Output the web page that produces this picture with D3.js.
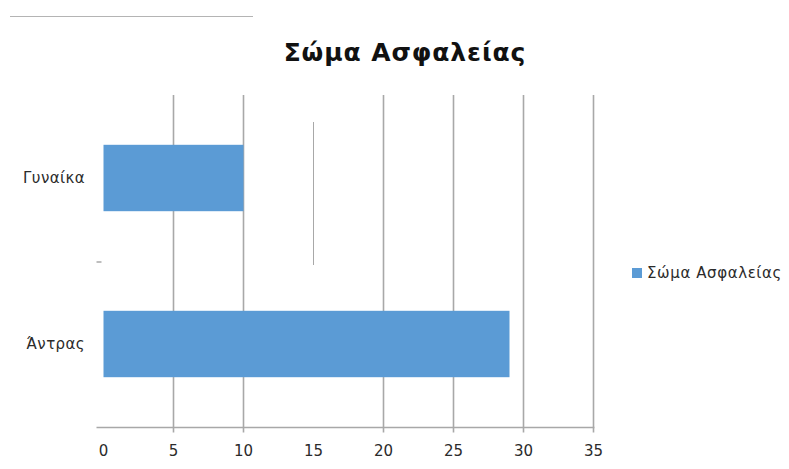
<!DOCTYPE html>
<html>
<head>
<meta charset="utf-8">
<script src="https://cdn.jsdelivr.net/npm/d3@7"></script>
<style>
  html, body { margin: 0; padding: 0; background: #ffffff; }
  svg { display: block; }
  text { font-family: "DejaVu Sans", Verdana, sans-serif; fill: #2b2b2b; }
</style>
</head>
<body>
<svg id="chart" width="789" height="469"></svg>
<script>
// Survey data: security forces, by gender
const chartTitle = "Σώμα Ασφαλείας";
const seriesName = "Σώμα Ασφαλείας";
const categories = ["Γυναίκα", "Άντρας"];
const values = [10, 29];
const xTicks = [0, 5, 10, 15, 20, 25, 30, 35];

const svg = d3.select("#chart");
const W = 789, H = 469;
const margin = { top: 95, right: 195, bottom: 42, left: 103.5 };
const plotW = 490, plotH = H - margin.top - margin.bottom;

svg.append("rect").attr("width", W).attr("height", H).attr("fill", "#ffffff");

// thin rule at the top of the page
svg.append("line")
  .attr("x1", 10).attr("x2", 253).attr("y1", 16.5).attr("y2", 16.5)
  .attr("stroke", "#b4b4b4").attr("stroke-width", 1.2);

const x = d3.scaleLinear().domain([0, 35]).range([margin.left, margin.left + plotW]);
const y = d3.scaleBand().domain(categories)
  .range([margin.top, margin.top + plotH])
  .paddingInner(0.6).paddingOuter(0.3);

const gridColor = "#a8a8a8";
const bandEdge = y.step() + margin.top;

// vertical gridlines (the 15 line only spans the upper band)
svg.append("g").selectAll("line")
  .data(xTicks.filter(t => t > 0))
  .join("line")
  .attr("x1", d => x(d)).attr("x2", d => x(d))
  .attr("y1", d => d === 15 ? margin.top + 27 : margin.top)
  .attr("y2", d => d === 15 ? bandEdge + 4 : margin.top + plotH)
  .attr("stroke", gridColor)
  .attr("stroke-width", d => d === 15 ? 1 : 1.6);

// bars
svg.append("g").selectAll("rect")
  .data(values)
  .join("rect")
  .attr("x", x(0))
  .attr("y", (d, i) => y(categories[i]))
  .attr("width", d => x(d) - x(0))
  .attr("height", y.bandwidth())
  .attr("fill", "#5b9bd5");

// horizontal value axis
const axisY = margin.top + plotH + 0.5;
svg.append("line")
  .attr("x1", margin.left - 7).attr("x2", x(35) + 1)
  .attr("y1", axisY).attr("y2", axisY)
  .attr("stroke", gridColor).attr("stroke-width", 1.6);

svg.append("g").selectAll("line")
  .data(xTicks.filter(t => t > 0 && t !== 15))
  .join("line")
  .attr("x1", d => x(d)).attr("x2", d => x(d))
  .attr("y1", axisY).attr("y2", axisY + 5)
  .attr("stroke", gridColor).attr("stroke-width", 1.6);

svg.append("g").selectAll("text")
  .data(xTicks)
  .join("text")
  .attr("x", d => x(d))
  .attr("y", axisY + 28)
  .attr("text-anchor", "middle")
  .attr("font-size", 15)
  .text(d => d);

// category separator tick
svg.append("line")
  .attr("x1", margin.left - 7).attr("x2", margin.left - 2)
  .attr("y1", bandEdge + 1).attr("y2", bandEdge + 1)
  .attr("stroke", gridColor).attr("stroke-width", 1.5);

// category labels
svg.append("g").selectAll("text")
  .data(categories)
  .join("text")
  .attr("x", 85)
  .attr("y", d => y(d) + y.bandwidth() / 2)
  .attr("dy", "0.35em")
  .attr("text-anchor", "end")
  .attr("font-size", 15)
  .attr("letter-spacing", 0.4)
  .text(d => d);

// title
svg.append("text")
  .attr("x", 405).attr("y", 61)
  .attr("text-anchor", "middle")
  .attr("font-weight", 700)
  .attr("font-size", 25)
  .attr("letter-spacing", 0.9)
  .style("fill", "#111")
  .text(chartTitle);

// legend
const lg = svg.append("g").attr("transform", "translate(632,268)");
lg.append("rect").attr("width", 10).attr("height", 10).attr("fill", "#5b9bd5");
lg.append("text").attr("x", 15).attr("y", 5).attr("dy", "0.35em")
  .attr("font-size", 15).attr("letter-spacing", 0.6).text(seriesName);
</script>
</body>
</html>
